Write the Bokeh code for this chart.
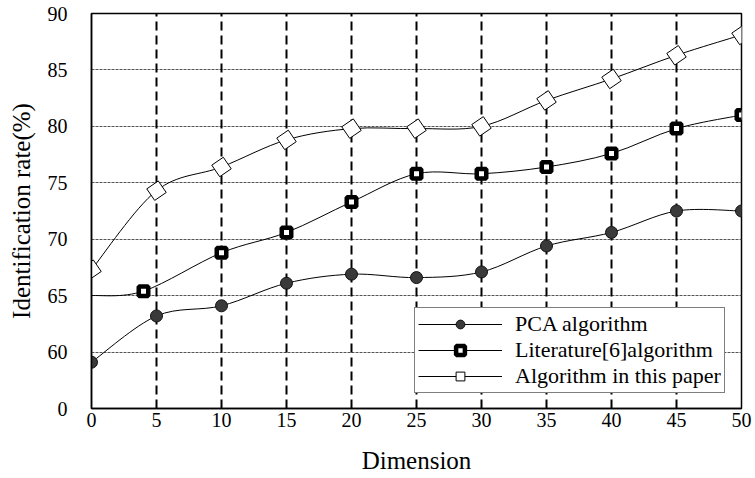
import numpy as np
from bokeh.plotting import figure
from bokeh.models import Range1d, FixedTicker, Legend, LegendItem, Grid, ColumnDataSource
from bokeh.embed import file_html
from bokeh.resources import INLINE

# ---- data ----
pca_x = [0, 5, 10, 15, 20, 25, 30, 35, 40, 45, 50]
pca_y = [59.1, 63.2, 64.1, 66.1, 66.9, 66.6, 67.1, 69.4, 70.6, 72.5, 72.5]

lit_x = [0, 4, 10, 15, 20, 25, 30, 35, 40, 45, 50]
lit_y = [65.0, 65.4, 68.8, 70.6, 73.3, 75.8, 75.8, 76.4, 77.6, 79.8, 81.0]

alg_x = [0, 5, 10, 15, 20, 25, 30, 35, 40, 45, 50]
alg_y = [67.3, 74.3, 76.4, 78.8, 79.8, 79.8, 80.0, 82.3, 84.2, 86.3, 88.1]

y_ticks = [55, 60, 65, 70, 75, 80, 85, 90]
y_tick_labels = ["0", "60", "65", "70", "75", "80", "85", "90"]
x_ticks = [0, 5, 10, 15, 20, 25, 30, 35, 40, 45, 50]

series_names = ["PCA algorithm", "Literature[6]algorithm", "Algorithm in this paper"]

FONT = "Liberation Serif"

p = figure(width=755, height=478, output_backend="svg", toolbar_location=None,
           x_range=Range1d(0, 50), y_range=Range1d(55, 90),
           min_border_left=91, min_border_right=14, min_border_top=13, min_border_bottom=70)
p.background_fill_color = "white"
p.outline_line_color = "black"
p.outline_line_width = 1.5
p.xgrid.visible = False
p.ygrid.visible = False

# grids
hgrid = Grid(dimension=1, ticker=FixedTicker(ticks=[60, 65, 70, 75, 80, 85]),
             grid_line_color="#555555", grid_line_dash="3 1", grid_line_width=1)
vgrid = Grid(dimension=0, ticker=FixedTicker(ticks=[5, 10, 15, 20, 25, 30, 35, 40, 45]),
             grid_line_color="black", grid_line_dash="9 5", grid_line_width=2)
p.add_layout(hgrid)
p.add_layout(vgrid)

# axes
p.xaxis.ticker = FixedTicker(ticks=x_ticks)
p.yaxis.ticker = FixedTicker(ticks=y_ticks)
p.yaxis.major_label_overrides = {t: l for t, l in zip(y_ticks, y_tick_labels)}
for ax in (p.xaxis[0], p.yaxis[0]):
    ax.major_tick_out = 0
    ax.major_tick_in = 0
    ax.minor_tick_out = 0
    ax.minor_tick_in = 0
    ax.axis_line_color = "black"
    ax.axis_line_width = 1.5
    ax.major_label_text_font = FONT
    ax.major_label_text_font_size = "20px"
    ax.major_label_text_color = "black"
    ax.axis_label_text_font = FONT
    ax.axis_label_text_font_size = "25px"
    ax.axis_label_text_font_style = "normal"
    ax.axis_label_text_color = "black"
p.xaxis.axis_label = "Dimension"
p.yaxis.axis_label = "Identification rate(%)"
p.xaxis.major_label_standoff = 4
p.xaxis.axis_label_standoff = 17
p.yaxis.major_label_standoff = 24
p.yaxis.axis_label_standoff = 10


def smooth(xs, ys):
    xs = np.asarray(xs, float)
    ys = np.asarray(ys, float)
    n = len(xs)
    d = dict(x0=[], y0=[], x1=[], y1=[], cx0=[], cy0=[], cx1=[], cy1=[])
    for i in range(n - 1):
        i0 = max(i - 1, 0)
        i3 = min(i + 2, n - 1)
        d["x0"].append(xs[i]); d["y0"].append(ys[i])
        d["x1"].append(xs[i + 1]); d["y1"].append(ys[i + 1])
        d["cx0"].append(xs[i] + (xs[i + 1] - xs[i0]) / 6)
        d["cy0"].append(ys[i] + (ys[i + 1] - ys[i0]) / 6)
        d["cx1"].append(xs[i + 1] - (xs[i3] - xs[i]) / 6)
        d["cy1"].append(ys[i + 1] - (ys[i3] - ys[i]) / 6)
    return ColumnDataSource(d)


curves = []
for xs, ys in ((pca_x, pca_y), (lit_x, lit_y), (alg_x, alg_y)):
    curves.append(p.bezier(x0="x0", y0="y0", x1="x1", y1="y1", cx0="cx0", cy0="cy0",
                           cx1="cx1", cy1="cy1", source=smooth(xs, ys),
                           line_color="black", line_width=1))

# markers
r_pca = p.scatter(pca_x, pca_y, marker="circle", size=12, fill_color="#3a3a3a",
                  line_color="#111111", line_width=1)
r_lit = p.scatter(lit_x[1:], lit_y[1:], marker="square", size=9.5, fill_color="white",
                  line_color="black", line_width=4.5)
r_alg = p.scatter(alg_x, alg_y, marker="square", size=14, angle=0.6, fill_color="white",
                  line_color="black", line_width=1)

legend = Legend(items=[
    LegendItem(label=series_names[0], renderers=[curves[0], r_pca]),
    LegendItem(label=series_names[1], renderers=[curves[1], r_lit]),
    LegendItem(label=series_names[2], renderers=[curves[2], r_alg]),
], location=(323, 15))
legend.label_text_font = FONT
legend.label_text_font_size = "22px"
legend.label_text_color = "black"
legend.glyph_width = 84
legend.glyph_height = 22
legend.label_height = 22
legend.label_standoff = 13
legend.spacing = 0
legend.padding = 3
legend.margin = 0
legend.border_line_color = "black"
legend.border_line_width = 1
legend.background_fill_color = "white"
legend.background_fill_alpha = 1
p.add_layout(legend)

open("out.html", "w").write(file_html(p, INLINE))
